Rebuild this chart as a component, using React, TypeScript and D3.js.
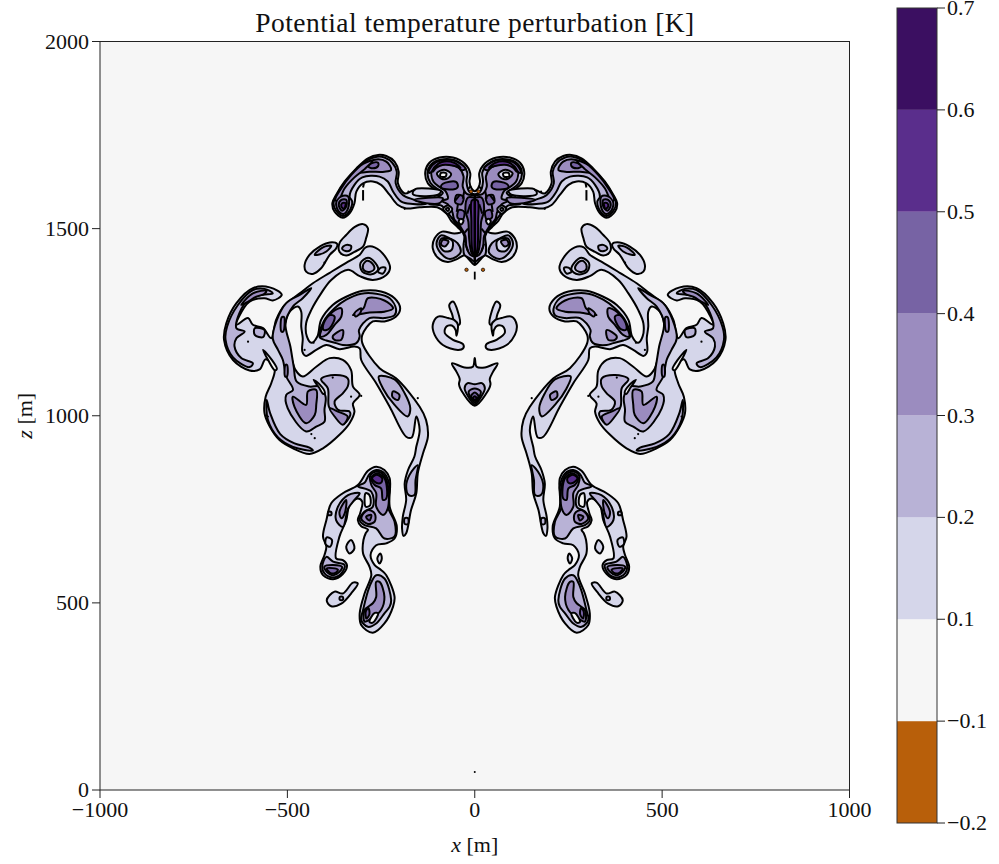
import React from "react";
import * as d3 from "d3";

type P = [number, number];

const levelBounds = [-0.2, -0.1, 0.1, 0.2, 0.3, 0.4, 0.5, 0.6, 0.7];
const levelColors = ["#b85f0a", "#f6f6f6", "#d5d6ea", "#b8b2d6", "#9b8cbf", "#7763a4", "#5a2e8c", "#3b0f61"];
const xTicks = [-1000, -500, 0, 500, 1000];
const zTicks = [0, 500, 1000, 1500, 2000];
const title = "Potential temperature perturbation [K]";

// ---- level index: 0 background (holes), 1 = 0.1-0.2, 2 = 0.2-0.3 ... ----
// Central crown, right half; mirrored about x = 0
const crownL1: P[] = [[0,1600],[10,1610],[14,1625],[12,1648],[27,1674],[58,1690],[94,1690],[121,1676],[132,1652],[125,1621],[103,1605],[90,1603],[161,1603],[187,1594],[205,1621],[203,1652],[214,1679],[236,1694],[258,1697],[285,1688],[316,1661],[347,1626],[370,1590],[380,1568],[374,1545],[352,1529],[334,1541],[321,1568],[316,1599],[298,1621],[272,1626],[250,1617],[227,1590],[205,1563],[183,1554],[147,1557],[100,1557],[76,1541],[63,1521],[45,1503],[36,1492],[54,1487],[87,1492],[107,1474],[112,1447],[99,1423],[72,1411],[45,1420],[27,1429],[14,1416],[0,1403]];
const crownL2: P[] = [[0,1592],[14,1598],[22,1625],[20,1650],[30,1668],[58,1684],[92,1684],[115,1673],[126,1650],[118,1622],[98,1605],[85,1596],[121,1566],[90,1562],[70,1540],[55,1520],[38,1500],[28,1480],[30,1455],[28,1430],[12,1420],[0,1412]];
const crownL3: P[] = [[0,1590],[20,1592],[32,1612],[30,1640],[42,1662],[70,1672],[100,1672],[115,1655],[110,1625],[92,1610],[78,1600],[72,1580],[90,1575],[72,1565],[60,1545],[55,1525],[38,1505],[25,1480],[22,1450],[12,1430],[0,1425]];
const crownL4: P[] = [[0,1583],[18,1583],[25,1550],[17,1518],[15,1474],[8,1434],[0,1427]];
const crownL5: P[] = [[0,1578],[8,1575],[9,1520],[6,1440],[0,1430]];
const diamondL1: P[] = [[0,1154],[5,1131],[27,1129],[61,1140],[49,1118],[40,1098],[42,1084],[31,1060],[0,1027]];
const diamondL2: P[] = [[0,1084],[19,1087],[27,1074],[20,1056],[0,1031]];
const diamondL3: P[] = [[0,1073],[16,1065],[12,1050],[0,1036]];
const diamondL4: P[] = [[0,1062],[10,1052],[0,1040]];
const diamondL5: P[] = [[0,1052],[5,1047],[0,1043]];
const axisShapes: [number, P[]][] = [[1,crownL1],[2,crownL2],[3,crownL3],[4,crownL4],[5,crownL5],[1,diamondL1],[2,diamondL2],[3,diamondL3],[4,diamondL4],[5,diamondL5]];

// Crown details
const capEdgeA: P[] = [[25,1660],[50,1680],[90,1682],[113,1670],[123,1650],[117,1650],[106,1666],[88,1676],[55,1674],[34,1656]];
const capEdgeB: P[] = [[38,1662],[55,1676],[88,1678],[104,1667],[112,1652],[103,1662],[86,1670],[56,1668]];
const capPatch: P[] = [[50,1625],[85,1620],[90,1610],[55,1605],[45,1612]];
const bodyPatchA: P[] = [[30,1585],[48,1590],[52,1570],[36,1565]];
const bodyPatchB: P[] = [[28,1545],[42,1550],[46,1530],[32,1525]];
const eye: P[] = [[63,1646],[81,1657],[101,1648],[90,1634],[72,1634]];
const eyeHole: P[] = [[76,1648],[90,1649],[92,1640],[78,1639]];
const ring: P[] = [[60,1552],[72,1562],[84,1553],[72,1540]];
const ringIn: P[] = [[68,1552],[72,1556],[77,1552],[72,1547]];
const crownHole: P[] = [[30,1522],[38,1526],[43,1518],[36,1511]];
const armStrip: P[] = [[90,1600],[160,1605],[165,1592],[100,1590]];
const armStrip3: P[] = [[85,1581],[161,1577],[130,1568],[94,1568]];
const lobeL2: P[] = [[67,1474],[90,1482],[102,1461],[92,1436],[66,1419],[38,1436],[46,1461]];
const lobeL1: P[] = [[60,1468],[88,1474],[94,1458],[82,1440],[62,1443]];
const lobeL3: P[] = [[70,1466],[85,1470],[90,1458],[80,1452]];
const armL2: P[] = [[130,1566],[161,1577],[192,1590],[211,1621],[208,1652],[220,1676],[241,1690],[261,1692],[288,1682],[319,1655],[349,1621],[370,1587],[377,1568],[370,1548],[352,1534],[336,1545],[327,1572],[334,1586],[321,1617],[300,1637],[254,1639],[232,1626],[218,1599],[196,1572],[165,1566]];
const armTopL3: P[] = [[223,1657],[236,1679],[263,1685],[298,1670],[321,1650],[281,1652],[241,1652]];
const armTopL4: P[] = [[258,1676],[272,1676],[285,1667],[272,1661],[258,1667]];
const armEdgeL3: P[] = [[272,1682],[298,1673],[330,1643],[356,1608],[372,1577],[365,1572],[347,1608],[321,1637],[294,1659]];
const tipL3: P[] = [[338,1586],[356,1586],[370,1568],[362,1545],[350,1539],[338,1554]];
const tipL4: P[] = [[343,1577],[356,1577],[363,1563],[354,1548],[343,1559]];
const tipL5: P[] = [[345,1568],[354,1568],[356,1559],[349,1553]];

// Blobs below the arm
const blobA: P[] = [[285,1501],[298,1512],[321,1504],[343,1483],[361,1461],[361,1438],[343,1428],[321,1438],[298,1452],[290,1474]];
const blobAIn: P[] = [[330,1454],[345,1456],[354,1447],[345,1440],[332,1443]];
const blobB: P[] = [[367,1459],[387,1463],[414,1452],[441,1430],[454,1403],[450,1385],[432,1379],[410,1394],[387,1430],[370,1447]];
const blobBIn: P[] = [[383,1454],[405,1450],[427,1430],[418,1430],[396,1439]];
const blobCL1b: P[] = [[265,1408],[285,1422],[305,1408],[300,1385],[275,1378],[258,1390]];
const blobCL2: P[] = [[272,1405],[287,1414],[298,1403],[295,1388],[278,1385],[268,1392]];
const blobCDot: P[] = [[238,1395],[250,1396],[258,1385],[245,1380]];

// Main swirl with mushroom and tail
const swirlL1: P[] = [[226,1394],[236,1421],[267,1450],[291,1450],[307,1430],[338,1412],[387,1382],[432,1354],[467,1327],[507,1296],[530,1256],[543,1207],[565,1234],[592,1243],[605,1261],[636,1243],[629,1265],[601,1305],[561,1314],[539,1308],[515,1323],[547,1343],[592,1341],[636,1301],[663,1247],[669,1203],[645,1149],[601,1121],[574,1124],[558,1151],[534,1127],[543,1087],[558,1051],[561,1007],[547,971],[521,935],[485,913],[441,898],[405,913],[361,949],[334,980],[321,1011],[325,1033],[307,1056],[325,1078],[330,1122],[352,1149],[387,1154],[423,1131],[459,1105],[478,1122],[492,1167],[507,1229],[494,1278],[472,1292],[463,1278],[463,1238],[459,1207],[460,1171],[451,1160],[423,1176],[396,1189],[361,1178],[321,1185],[307,1180],[303,1149],[263,1087],[227,1024],[183,944],[168,942],[156,998],[147,962],[156,917],[161,891],[178,855],[187,819],[183,775],[192,730],[194,699],[190,679],[183,686],[170,748],[156,793],[152,846],[138,900],[125,944],[130,989],[147,1024],[210,1100],[254,1127],[300,1194],[300,1216],[272,1252],[241,1252],[210,1265],[199,1287],[214,1314],[250,1332],[299,1334],[343,1318],[379,1296],[410,1256],[420,1212],[436,1195],[448,1212],[450,1247],[436,1283],[410,1327],[383,1363],[338,1390],[307,1373],[272,1363],[236,1376]];
const mushroomL2: P[] = [[210,1285],[227,1314],[263,1326],[303,1326],[343,1310],[374,1287],[403,1252],[414,1210],[396,1201],[370,1194],[352,1189],[316,1194],[307,1212],[309,1229],[281,1261],[241,1261],[214,1269]];
const mushroomA: P[] = [[218,1287],[241,1308],[285,1314],[297,1287],[325,1269],[281,1276],[241,1278]];
const mushroomB: P[] = [[356,1287],[379,1278],[405,1238],[412,1212],[396,1216],[374,1243],[356,1265]];
const mushroomC: P[] = [[374,1265],[387,1269],[403,1247],[403,1229],[387,1234]];
const mushroomD: P[] = [[352,1229],[379,1212],[374,1203],[356,1203]];
const mushroomE: P[] = [[303,1287],[321,1274],[318,1265],[306,1274]];
const stemL2: P[] = [[187,1060],[214,1097],[256,1105],[245,1073],[214,1029],[179,998],[172,1020]];
const stemL3: P[] = [[201,1056],[218,1065],[220,1051],[205,1042]];
const tailL2: P[] = [[152,868],[174,842],[183,811],[176,788],[161,788],[158,828]];
const tailDot: P[] = [[178,726],[187,726],[187,711],[178,711]];
const bandL2: P[] = [[436,1341],[467,1323],[503,1301],[528,1256],[539,1207],[525,1176],[512,1149],[503,1105],[485,1069],[503,1056],[499,1020],[450,958],[423,971],[401,984],[401,1016],[398,1051],[414,1078],[441,1078],[475,1091],[483,1131],[492,1185],[505,1247],[485,1292],[459,1314]];
const swirlLeftL2: P[] = [[339,1100],[374,1109],[410,1098],[392,1073],[389,1024],[374,1007],[352,978],[332,1002],[334,1011],[365,1016],[374,1038],[352,1060],[339,1078]];
const swirlPatchA: P[] = [[423,1069],[445,1065],[450,1029],[485,1051],[481,1024],[450,980],[427,1002],[423,1029]];
const swirlPatchB: P[] = [[339,998],[365,1011],[387,1020],[374,998],[352,976]];
const lobeRightL2: P[] = [[539,1327],[561,1339],[592,1336],[632,1296],[661,1238],[665,1203],[645,1156],[601,1130],[592,1140],[623,1154],[641,1185],[636,1207],[614,1225],[636,1234],[628,1274],[601,1314],[565,1323]];
const lobeRightL3: P[] = [[556,1334],[592,1327],[623,1296],[610,1302],[583,1318],[561,1326]];
const lobePatch: P[] = [[561,1229],[587,1234],[587,1216],[565,1210]];
const slitA: P[] = [[528,1125],[542,1150],[565,1176],[551,1148],[534,1122]];
const slitB: P[] = [[400,1062],[414,1084],[430,1096],[416,1076],[404,1058]];
const ringArc: P[] = [[432,907],[485,917],[525,942],[552,989],[555,1042],[546,1007],[519,951],[481,926],[441,915]];
const sliverA: P[] = [[509,1264],[515,1263],[516,1225],[511,1225]];
const sliverB: P[] = [[501,1136],[505,1136],[506,1105],[501,1105]];

// Lower plume
const plumeL1: P[] = [[227,833],[241,855],[263,864],[285,853],[312,815],[352,793],[383,766],[396,721],[405,677],[396,650],[401,628],[412,597],[405,574],[378,563],[352,577],[341,601],[352,614],[370,619],[361,677],[343,721],[334,761],[312,779],[300,770],[306,739],[312,721],[303,705],[285,696],[291,686],[297,668],[298,632],[281,597],[276,574],[294,525],[307,472],[303,441],[272,420],[241,445],[218,490],[214,516],[236,574],[250,588],[267,601],[278,628],[263,654],[236,659],[214,672],[208,704],[227,757]];
const plumeEgg: P[] = [[330,668],[343,650],[334,632],[321,646]];
const plumeFoot: P[] = [[312,552],[325,554],[352,525],[374,530],[395,507],[383,491],[356,498],[330,525]];
const plumeFootDot: P[] = [[352,516],[360,516],[360,508],[352,508]];
const plumeSliver: P[] = [[252,632],[260,619],[254,605],[248,619]];
const plumeHole: P[] = [[281,788],[291,793],[291,757],[279,761]];
const headL2: P[] = [[227,810],[241,846],[263,855],[281,844],[294,821],[312,812],[276,797],[272,757],[294,744],[307,721],[294,708],[263,699],[241,672],[214,678],[214,717],[232,757]];
const headL3: P[] = [[232,815],[243,842],[263,851],[279,839],[276,815],[263,793],[263,757],[245,735],[232,753]];
const headL4: P[] = [[241,833],[263,846],[276,833],[267,815],[250,806],[245,775],[236,779]];
const headL5: P[] = [[247,833],[263,842],[274,833],[263,821],[250,821]];
const neckL3: P[] = [[267,739],[285,748],[303,726],[285,711],[267,717]];
const neckL4: P[] = [[276,735],[290,730],[281,720]];
const plumeBandL2: P[] = [[307,793],[338,788],[365,757],[370,721],[352,703],[338,752],[321,775]];
const plumeBandL3: P[] = [[343,775],[361,743],[356,726],[347,739]];
const footL2: P[] = [[347,601],[378,610],[396,623],[407,597],[401,579],[378,568],[356,579]];
const footL3: P[] = [[354,596],[378,601],[401,597],[395,583],[377,574],[361,583]];
const footL4: P[] = [[365,589],[395,592],[387,581],[374,579]];
const plumeLoop: P[] = [[381,668],[395,675],[398,657],[386,650]];
const plumeSpot: P[] = [[383,743],[391,743],[391,735],[383,735]];
const dropL2: P[] = [[223,507],[241,565],[263,574],[281,543],[298,481],[303,454],[285,436],[263,445],[241,472],[227,490]];
const dropL3: P[] = [[241,516],[254,556],[263,556],[263,516],[272,499],[294,481],[294,450],[276,458],[250,481]];
const dropL4: P[] = [[284,487],[291,476],[289,458],[281,470]];
const dropHole: P[] = [[258,472],[267,473],[281,449],[272,447]];

// Central commas
const commaThin: P[] = [[58,1305],[68,1296],[60,1270],[52,1243],[40,1245],[45,1278]];
const commaBig: P[] = [[71,1261],[98,1265],[112,1243],[107,1216],[85,1189],[45,1176],[31,1180],[31,1191],[58,1203],[80,1221],[76,1238],[61,1241],[51,1229],[49,1214],[45,1243],[55,1256]];

const orangeMarks: P[] = [[22,1390],[10,1599]];
const mirroredShapes: [number, P[]][] = [
  [1,swirlL1],[1,blobA],[2,blobAIn],[1,blobB],[2,blobBIn],[1,blobCL1b],[2,blobCL2],[1,blobCDot],
  [2,mushroomL2],[3,mushroomA],[3,mushroomB],[4,mushroomC],[3,mushroomD],[3,mushroomE],
  [2,stemL2],[3,stemL3],[2,tailL2],[2,tailDot],[2,bandL2],[3,sliverA],[3,sliverB],[2,swirlLeftL2],[3,swirlPatchA],[3,swirlPatchB],
  [2,lobeRightL2],[3,lobeRightL3],[2,lobePatch],[0,slitA],[0,slitB],[2,ringArc],
  [1,plumeL1],[1,plumeEgg],[1,plumeFoot],[2,plumeFootDot],[1,plumeSliver],[0,plumeHole],
  [2,headL2],[3,headL3],[4,headL4],[5,headL5],[3,neckL3],[4,neckL4],[2,plumeBandL2],[3,plumeBandL3],
  [2,footL2],[3,footL3],[4,footL4],[1,plumeLoop],[2,plumeSpot],[2,dropL2],[3,dropL3],[4,dropL4],[0,dropHole],
  [1,commaThin],[1,commaBig],
];
const crownDetails: [number, P[]][] = [
  [2,armL2],[3,armTopL3],[4,armTopL4],[3,armEdgeL3],[3,tipL3],[4,tipL4],[5,tipL5],
  [4,capEdgeA],[5,capEdgeB],[4,capPatch],[4,bodyPatchA],[4,bodyPatchB],[1,eye],[0,eyeHole],[1,ring],[2,ringIn],[0,crownHole],[1,armStrip],[3,armStrip3],
  [2,lobeL2],[1,lobeL1],[3,lobeL3],
];
const specks: P[] = [[401,1409],[187,1553],[161,1603],[177,1599],[430,1195],[454,1176],[330,1051],[379,1102],[152,1047],[303,1053],[436,951],[427,940],[605,1198],[552,998]];
const dashes: [P, P][] = [[[298,1603],[298,1575]],[[296,1620],[298,1610]],[[12,1565],[20,1540]],[[28,1600],[32,1580]],[[40,1590],[52,1575]],[[60,1530],[50,1510]],[[18,1500],[30,1485]],[[45,1565],[48,1545]],[[90,1590],[110,1587]],[[25,1460],[18,1440]],[[10,1615],[18,1605]]];
const axisLine: P[] = [[0,1405],[0,1590]];
const centerDash: P[] = [[0,1385],[0,1364]];
const bottomSpeck: P = [0, 48];

const W = 999, H = 864;
const plot = { left: 100, right: 849.5, top: 41.5, bottom: 790 };
const bar = { left: 897, right: 937, top: 8, bottom: 823 };
const FONT = "'Liberation Serif', serif";

export default function App() {
  const x = d3.scaleLinear().domain([-1000, 1000]).range([plot.left, plot.right]);
  const z = d3.scaleLinear().domain([0, 2000]).range([plot.bottom, plot.top]);
  const cb = d3.scalePoint<number>().domain(levelBounds).range([bar.bottom, bar.top]);
  const line = (s: number) =>
    d3.line<P>().x((d) => x(s * d[0])).y((d) => z(d[1])).curve(d3.curveCatmullRomClosed.alpha(0.5));
  const whole = (p: P[]): P[] => [...p, ...p.slice(1, -1).reverse().map(([a, b]) => [-a, b] as P)];
  const fmt = (v: number) => String(v).replace("-", "\u2212");
  const fmtBar = (v: number) => v.toFixed(1).replace("-", "\u2212");
  const fill = (lvl: number) => levelColors[lvl + 1];
  const stroke = { stroke: "#000", strokeWidth: 2, strokeLinejoin: "round" as const };

  return (
    <svg width={W} height={H} style={{ position: "absolute", left: 0, top: 0, display: "block" }} fontFamily={FONT} fill="#111">
      <rect x={plot.left} y={plot.top} width={plot.right - plot.left} height={plot.bottom - plot.top} fill={levelColors[1]} />
      {[-1, 1].map((s) => mirroredShapes.slice(0, 1).map(([l, p], i) => (
        <path key={`a${s}${i}`} d={line(s)(p) || ""} fill={fill(l)} {...stroke} />
      )))}
      {axisShapes.map(([l, p], i) => (
        <path key={`c${i}`} d={line(1)(whole(p)) || ""} fill={fill(l)} {...stroke} />
      ))}
      {[-1, 1].map((s) => [...mirroredShapes.slice(1), ...crownDetails].map(([l, p], i) => (
        <path key={`m${s}${i}`} d={line(s)(p) || ""} fill={fill(l)} {...stroke} />
      )))}
      <line x1={x(axisLine[0][0])} x2={x(axisLine[1][0])} y1={z(axisLine[0][1])} y2={z(axisLine[1][1])} stroke="#000" strokeWidth={2.5} />
      <line x1={x(centerDash[0][0])} x2={x(centerDash[1][0])} y1={z(centerDash[0][1])} y2={z(centerDash[1][1])} stroke="#000" strokeWidth={1.8} />
      {[-1, 1].map((s) => (
        <g key={`d${s}`}>
          {specks.map((d, i) => <circle key={i} cx={x(s * d[0])} cy={z(d[1])} r={1.1} fill="#000" />)}
          {dashes.map((d, i) => <line key={i} x1={x(s * d[0][0])} x2={x(s * d[1][0])} y1={z(d[0][1])} y2={z(d[1][1])} stroke="#000" strokeWidth={2} />)}
          {orangeMarks.map((d, i) => <circle key={i} cx={x(s * d[0])} cy={z(d[1])} r={1.7} fill={levelColors[0]} stroke="#000" strokeWidth={0.7} />)}
        </g>
      ))}
      <circle cx={x(bottomSpeck[0])} cy={z(bottomSpeck[1])} r={1} fill="#000" />

      <rect x={plot.left} y={plot.top} width={plot.right - plot.left} height={plot.bottom - plot.top} fill="none" stroke="#222" strokeWidth={1} />
      {xTicks.map((t) => (
        <g key={t}>
          <line x1={x(t)} x2={x(t)} y1={plot.bottom} y2={plot.bottom + 8} stroke="#222" />
          <text x={x(t)} y={plot.bottom + 27} fontSize={22} textAnchor="middle">{fmt(t)}</text>
        </g>
      ))}
      {zTicks.map((t) => (
        <g key={t}>
          <line x1={plot.left - 8} x2={plot.left} y1={z(t)} y2={z(t)} stroke="#222" />
          <text x={plot.left - 11} y={z(t) + 7} fontSize={22} textAnchor="end">{fmt(t)}</text>
        </g>
      ))}
      <text x={(plot.left + plot.right) / 2} y={32} fontSize={27.5} textAnchor="middle" textLength={439} lengthAdjust="spacing">{title}</text>
      <text x={(plot.left + plot.right) / 2} y={852} fontSize={22} textAnchor="middle"><tspan fontStyle="italic">x</tspan> [m]</text>
      <text transform={`translate(32,${(plot.top + plot.bottom) / 2}) rotate(-90)`} fontSize={22} textAnchor="middle"><tspan fontStyle="italic">z</tspan> [m]</text>

      {levelColors.map((c, i) => (
        <rect key={c} x={bar.left} width={bar.right - bar.left} y={cb(levelBounds[i + 1])!} height={cb(levelBounds[i])! - cb(levelBounds[i + 1])!} fill={c} />
      ))}
      <rect x={bar.left} y={bar.top} width={bar.right - bar.left} height={bar.bottom - bar.top} fill="none" stroke="#333" strokeWidth={1} />
      {levelBounds.map((v) => (
        <g key={v}>
          <line x1={bar.right} x2={bar.right + 8} y1={cb(v)!} y2={cb(v)!} stroke="#222" />
          <text x={bar.right + 10} y={cb(v)! + 7} fontSize={22}>{fmtBar(v)}</text>
        </g>
      ))}
    </svg>
  );
}
